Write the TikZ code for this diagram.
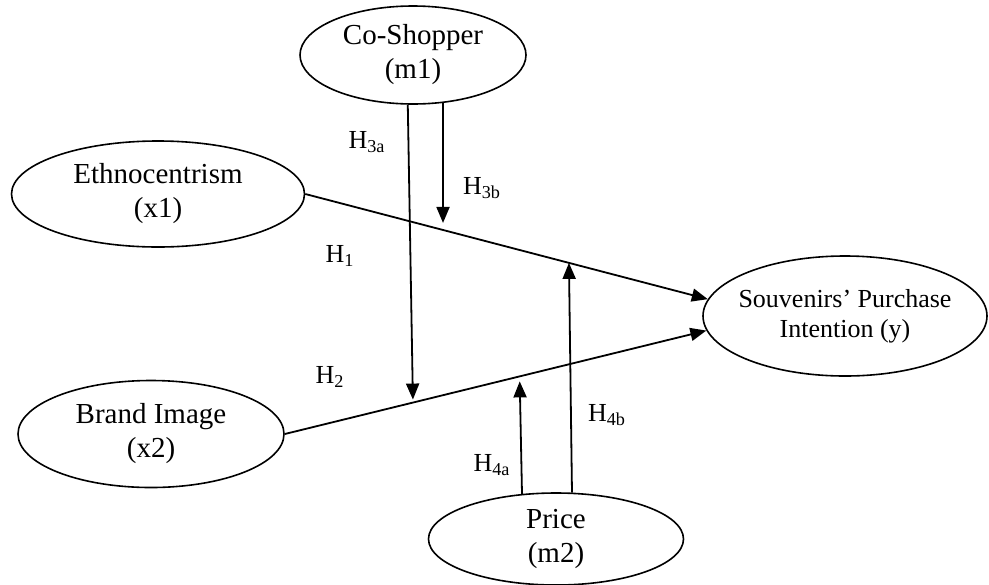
\documentclass[tikz,border=0pt]{standalone}
\usepackage{fontspec}
\setmainfont{Liberation Serif}
\usepackage{tikz}
\usetikzlibrary{arrows.meta,shapes.geometric}
\tikzset{
  ell/.style={draw,ellipse,line width=0.8pt,inner sep=-10pt,align=center,font=\fontsize{14.5}{17}\selectfont},
  lab/.style={font=\fontsize{13}{15}\selectfont,inner sep=1pt},
  arr/.style={-{Triangle[length=8pt,width=6.5pt]},line width=0.9pt},
}

\begin{document}
\begin{tikzpicture}[x=0.5pt,y=-0.5pt]
\useasboundingbox (0,0) rectangle (989,584);
% constructs
\node[ell,minimum width=113pt,minimum height=49pt] (m1) at (413,55) {Co-Shopper\\(m1)};
\node[ell,minimum width=146.5pt,minimum height=53pt] (x1) at (158,194) {Ethnocentrism\\(x1)};
\node[ell,minimum width=133pt,minimum height=53.5pt] (x2) at (151,434) {Brand Image\\(x2)};
\node[ell,minimum width=142pt,minimum height=60pt,font=\fontsize{13}{15}\selectfont] (y) at (845,316) {Souvenirs’ Purchase\\Intention (y)};
\node[ell,minimum width=127.5pt,minimum height=46pt] (m2) at (556,539) {Price\\(m2)};
% direct paths
\draw[arr] (x1.east) -- (y.173) coordinate[pos=0.342] (h3b) coordinate[pos=0.655] (h4b);
\draw[arr] (x2.east) -- (y.186) coordinate[pos=0.304] (h3a) coordinate[pos=0.557] (h4a);
% moderators
\draw[arr,shorten >=1.5pt] (m1.-96) -- (h3a);
\draw[arr,shorten >=3.5pt] (m1.-58) -- (m1.-58 |- h3b);
\draw[arr,shorten >=2.5pt] (m2.127) -- (h4a);
\draw[arr] (m2.71) -- (h4b);
% hypotheses
\node[lab] (l3a) at (367,142) {H\textsubscript{3a}};
\node[lab] (l3b) at (482,188) {H\textsubscript{3b}};
\node[lab] (l1) at (340,256) {H\textsubscript{1}};
\node[lab] (l2) at (330,377) {H\textsubscript{2}};
\node[lab] (l4a) at (492,465) {H\textsubscript{4a}};
\node[lab] (l4b) at (607,415) {H\textsubscript{4b}};
\end{tikzpicture}
\end{document}
